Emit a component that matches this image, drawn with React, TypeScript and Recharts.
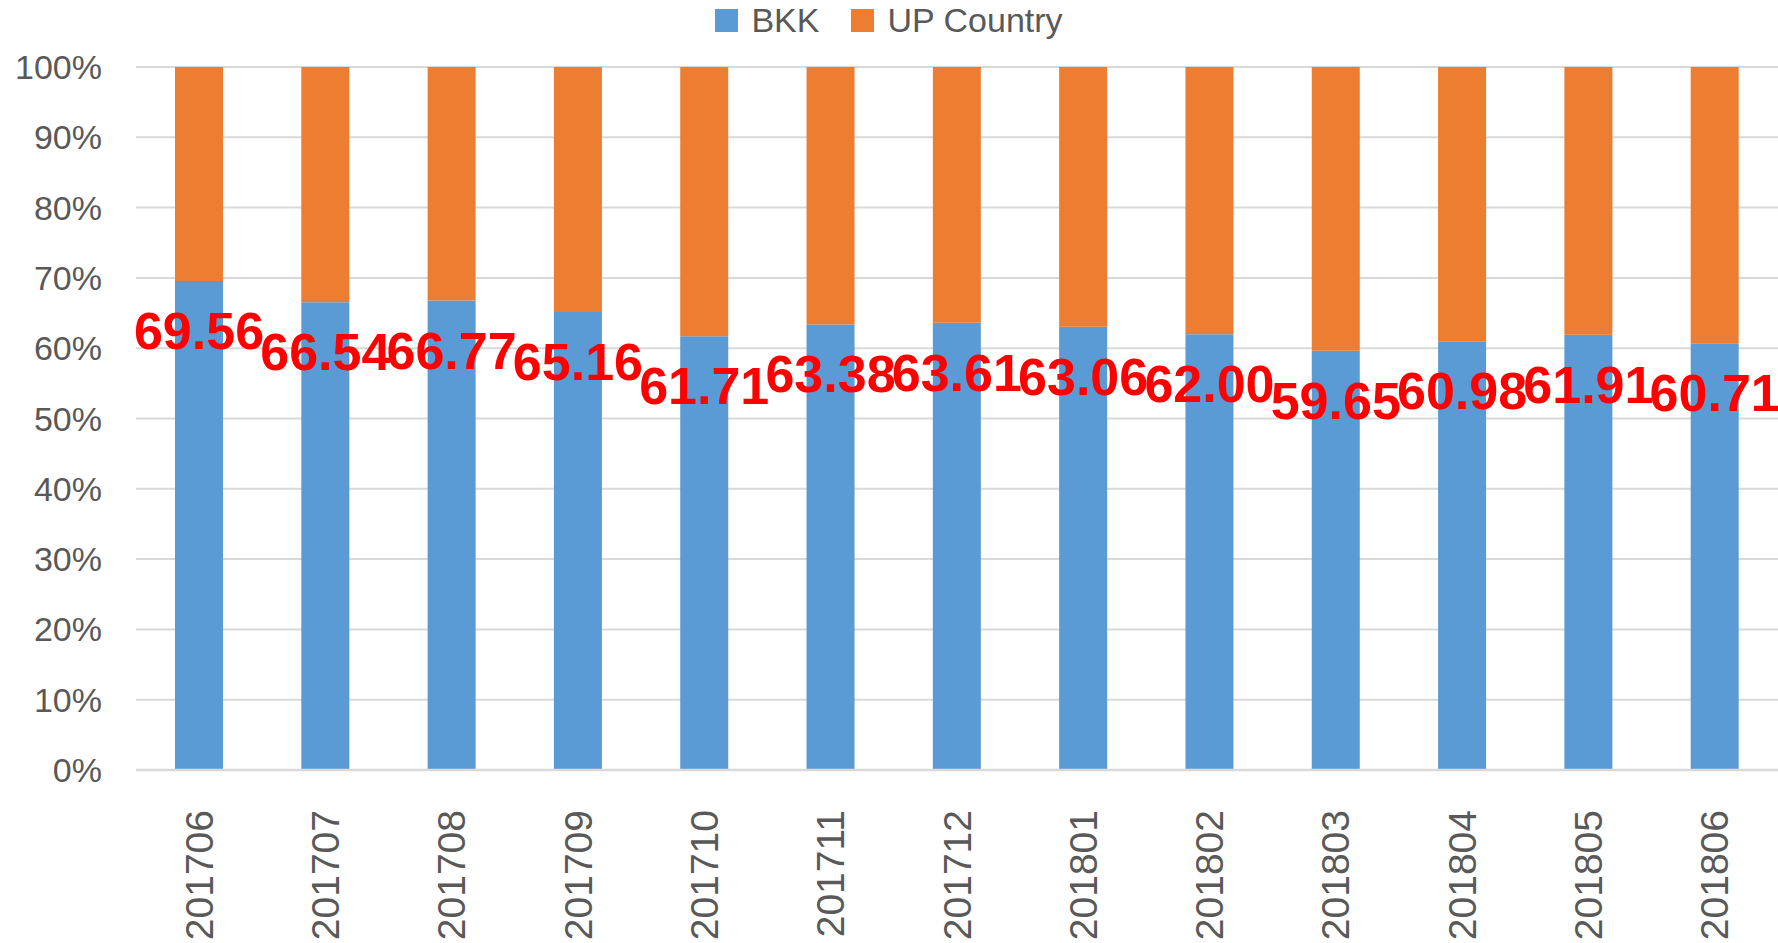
import React from "react";
import { BarChart, Bar, XAxis, YAxis, CartesianGrid, Legend, LabelList } from "recharts";

const months = [
  "201706", "201707", "201708", "201709", "201710", "201711", "201712",
  "201801", "201802", "201803", "201804", "201805", "201806",
];
const bkk = [69.56, 66.54, 66.77, 65.16, 61.71, 63.38, 63.61, 63.06, 62.0, 59.65, 60.98, 61.91, 60.71];
const upCountry = [30.44, 33.46, 33.23, 34.84, 38.29, 36.62, 36.39, 36.94, 38.0, 40.35, 39.02, 38.09, 39.29];
const yTicks = [0, 10, 20, 30, 40, 50, 60, 70, 80, 90, 100];

const BLUE = "#5B9BD5";
const ORANGE = "#ED7D31";
const TEXT = "#595959";
const GRID = "#D9D9D9";
const FONT = "'Liberation Sans', Arial, sans-serif";

const data = months.map((m, i) => ({ month: m, bkk: bkk[i], up: upCountry[i] }));

function MonthTick(props: any) {
  const { x, y, payload } = props;
  const ty = y + 32;
  return (
    <text
      x={x}
      y={ty}
      transform={`rotate(-90, ${x}, ${ty})`}
      textAnchor="end"
      dominantBaseline="central"
      fill={TEXT}
      fontSize={39}
      fontFamily={FONT}
    >
      {payload.value}
    </text>
  );
}

// red value label, centred a little below the top of the BKK segment
function ValueLabel(props: any) {
  const { x, y, width, value } = props;
  return (
    <text
      x={x + width / 2}
      y={y + 68}
      textAnchor="middle"
      fill="#FF0000"
      fontSize={52}
      fontWeight="bold"
      fontFamily={FONT}
    >
      {Number(value).toFixed(2)}
    </text>
  );
}

function LegendBox() {
  const items = [
    { name: "BKK", color: BLUE },
    { name: "UP Country", color: ORANGE },
  ];
  return (
    <div
      style={{
        width: 1778,
        height: 40,
        display: "flex",
        justifyContent: "center",
        alignItems: "center",
        fontFamily: FONT,
        fontSize: 34,
        color: TEXT,
      }}
    >
      {items.map((it, i) => (
        <div key={it.name} style={{ display: "flex", alignItems: "center", marginLeft: i ? 32 : 0 }}>
          <span style={{ width: 23, height: 23, background: it.color, marginRight: 13, display: "inline-block" }} />
          <span>{it.name}</span>
        </div>
      ))}
    </div>
  );
}

export default function App() {
  return (
    <div style={{ position: "absolute", left: 0, top: 0, background: "#fff" }}>
      <BarChart
        width={1778}
        height={943}
        data={data}
        margin={{ top: 27, right: 0, bottom: 0, left: 0 }}
      >
        <Legend verticalAlign="top" content={() => <LegendBox />} wrapperStyle={{ top: 0, left: 0 }} />
        <CartesianGrid vertical={false} stroke={GRID} strokeWidth={2} />
        <XAxis
          dataKey="month"
          height={173}
          tick={<MonthTick />}
          tickLine={false}
          axisLine={{ stroke: GRID, strokeWidth: 2.5 }}
          interval={0}
        />
        <YAxis
          width={136}
          domain={[0, 100]}
          ticks={yTicks}
          tickFormatter={(v) => `${v}%`}
          tick={{ fill: TEXT, fontSize: 34, fontFamily: FONT }}
          tickLine={false}
          tickSize={0}
          tickMargin={34}
          axisLine={false}
        />
        <Bar dataKey="bkk" name="BKK" stackId="a" fill={BLUE} barSize={48} isAnimationActive={false}>
          <LabelList dataKey="bkk" content={<ValueLabel />} />
        </Bar>
        <Bar dataKey="up" name="UP Country" stackId="a" fill={ORANGE} barSize={48} isAnimationActive={false} />
      </BarChart>
    </div>
  );
}
